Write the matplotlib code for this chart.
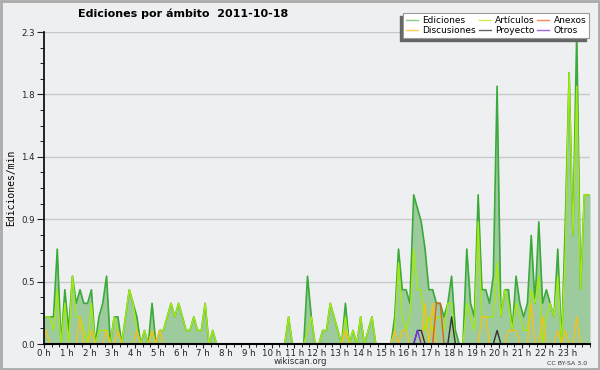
import matplotlib
matplotlib.use("Agg")
import matplotlib.pyplot as plt
import numpy as np
from matplotlib.patches import Rectangle
from matplotlib.ticker import AutoMinorLocator, MultipleLocator

# edits per minute, 10-minute bins (one row = one hour)
ediciones = [
    0.2, 0.2, 0.2, 0.7, 0.0, 0.4,
    0.1, 0.5, 0.3, 0.4, 0.3, 0.3,
    0.4, 0.0, 0.2, 0.3, 0.5, 0.0,
    0.2, 0.2, 0.0, 0.2, 0.4, 0.3,
    0.2, 0.0, 0.1, 0.0, 0.3, 0.0,
    0.1, 0.1, 0.2, 0.3, 0.2, 0.3,
    0.2, 0.1, 0.1, 0.2, 0.1, 0.1,
    0.3, 0.0, 0.1, 0.0, 0.0, 0.0,
    0.0, 0.0, 0.0, 0.0, 0.0, 0.0,
    0.0, 0.0, 0.0, 0.0, 0.0, 0.0,
    0.0, 0.0, 0.0, 0.0, 0.2, 0.0,
    0.0, 0.0, 0.0, 0.5, 0.2, 0.0,
    0.0, 0.1, 0.1, 0.3, 0.2, 0.1,
    0.0, 0.3, 0.0, 0.1, 0.0, 0.2,
    0.0, 0.1, 0.2, 0.0, 0.0, 0.0,
    0.0, 0.0, 0.2, 0.7, 0.4, 0.4,
    0.3, 1.1, 1.0, 0.9, 0.7, 0.4,
    0.4, 0.3, 0.3, 0.2, 0.3, 0.5,
    0.1, 0.0, 0.0, 0.7, 0.3, 0.2,
    1.1, 0.4, 0.4, 0.3, 0.5, 1.9,
    0.2, 0.4, 0.4, 0.1, 0.5, 0.3,
    0.2, 0.3, 0.8, 0.3, 0.9, 0.3,
    0.4, 0.3, 0.2, 0.7, 0.0, 0.9,
    2.0, 0.8, 2.3, 0.4, 1.1, 1.1,
]
articulos = [
    0.2, 0.2, 0.1, 0.4, 0.0, 0.3,
    0.0, 0.5, 0.2, 0.2, 0.1, 0.0,
    0.3, 0.0, 0.1, 0.1, 0.1, 0.0,
    0.2, 0.1, 0.0, 0.2, 0.4, 0.3,
    0.1, 0.0, 0.1, 0.0, 0.1, 0.0,
    0.1, 0.1, 0.2, 0.3, 0.2, 0.3,
    0.2, 0.1, 0.1, 0.2, 0.1, 0.1,
    0.3, 0.0, 0.1, 0.0, 0.0, 0.0,
    0.0, 0.0, 0.0, 0.0, 0.0, 0.0,
    0.0, 0.0, 0.0, 0.0, 0.0, 0.0,
    0.0, 0.0, 0.0, 0.0, 0.2, 0.0,
    0.0, 0.0, 0.0, 0.1, 0.2, 0.0,
    0.0, 0.1, 0.1, 0.3, 0.2, 0.1,
    0.0, 0.2, 0.0, 0.1, 0.0, 0.2,
    0.0, 0.1, 0.2, 0.0, 0.0, 0.0,
    0.0, 0.0, 0.1, 0.6, 0.2, 0.1,
    0.2, 0.7, 0.4, 0.4, 0.1, 0.2,
    0.1, 0.2, 0.2, 0.1, 0.3, 0.3,
    0.0, 0.0, 0.0, 0.3, 0.2, 0.1,
    0.9, 0.2, 0.2, 0.2, 0.2, 0.6,
    0.2, 0.4, 0.3, 0.1, 0.3, 0.2,
    0.1, 0.1, 0.4, 0.3, 0.5, 0.0,
    0.2, 0.3, 0.2, 0.5, 0.0, 0.7,
    2.0, 0.8, 1.9, 0.4, 1.1, 1.1,
]
discusiones = [0.0] * 144
for i, v in [(0, 0.1), (9, 0.2), (12, 0.1), (16, 0.1), (19, 0.1), (24, 0.1),
             (28, 0.1), (30, 0.1), (79, 0.1), (92, 0.1), (94, 0.1), (95, 0.1),
             (100, 0.3), (102, 0.3), (115, 0.2), (116, 0.2), (122, 0.1),
             (123, 0.1), (124, 0.1), (128, 0.3), (131, 0.2), (135, 0.1),
             (137, 0.1), (140, 0.2)]:
    discusiones[i] = v
anexos = [0.0] * 144
anexos[103] = 0.3
anexos[104] = 0.3
proyecto = [0.0] * 144
for i, v in [(98, 0.1), (99, 0.1), (107, 0.2), (119, 0.1)]:
    proyecto[i] = v
otros = [0.0] * 144
otros[98] = 0.1

hour_labels = ["%d h" % h for h in range(24)]
title = "Ediciones por ámbito  2011-10-18"
ymax = 2.3

bg = "#eeeff1"
fig = plt.figure(figsize=(6, 3.7), dpi=100, facecolor=bg)
ax = fig.add_axes([44 / 600, 26 / 370, 546 / 600, 312 / 370])
ax.set_facecolor(bg)

# bin centres in hours, padded out to the axis edges
x = (np.arange(144) + 0.5) / 6.0
xx = np.concatenate([[0], x, [24]])

def pad(v):
    return np.concatenate([[v[0]], v, [v[-1]]])

ax.fill_between(xx, pad(ediciones), color="#9dcb9d", lw=0)
series = [
    (articulos, "#a4ea10"),
    (discusiones, "#f2c21b"),
    (anexos, "#e2601c"),
    (proyecto, "#333333"),
    (otros, "#7a2ee8"),
]
ax.plot(xx, pad(ediciones), color="#3aaa3a", lw=1.2, zorder=3)
for vals, col in series:
    ax.plot(xx, pad(vals), color=col, lw=1.0, zorder=4)

ax.set_xlim(0, 24)
ax.set_ylim(0, ymax)
yt = np.linspace(0, ymax, 6)
ax.set_yticks(yt)
ax.set_yticklabels(["%.1f" % v for v in yt])
ax.yaxis.set_minor_locator(AutoMinorLocator(4))
ax.set_xticks(range(24))
ax.set_xticklabels(hour_labels)
ax.xaxis.set_minor_locator(MultipleLocator(1 / 3))
ax.grid(axis="y", color="#c8c8c8", lw=1)
ax.set_axisbelow(True)
for s in ["top", "right"]:
    ax.spines[s].set_visible(False)
for s in ["left", "bottom"]:
    ax.spines[s].set_zorder(6)
ax.spines["left"].set_linewidth(1.2)
ax.spines["bottom"].set_linewidth(1.5)
ax.tick_params(axis="both", labelsize=6.2, colors="#222222")
ax.tick_params(axis="y", which="major", length=5, pad=1.5)
ax.tick_params(axis="y", which="minor", length=3)
ax.tick_params(axis="x", which="major", length=3, pad=0.5)
ax.tick_params(axis="x", which="minor", length=2.5)
ax.set_ylabel("Ediciones/min", fontsize=7, family="DejaVu Sans Mono", labelpad=4)

fig.text(0.305, 0.962, title, ha="center", va="center", fontsize=8, fontweight="bold")
fig.text(0.5, 0.022, "wikiscan.org", ha="center", va="center", fontsize=6.2, color="#333333")
fig.text(0.978, 0.018, "CC BY-SA 3.0", ha="right", va="center", fontsize=4.5, color="#333333")

labels = ["Ediciones", "Discusiones", "Artículos", "Proyecto", "Anexos", "Otros"]
colors = ["#88cc88", "#ffcc55", "#ccee55", "#666666", "#ff8855", "#9966ee"]
handles = [plt.Line2D([], [], color=c, lw=1) for c in colors]
leg = fig.legend(handles, labels, ncol=3, loc="upper right", bbox_to_anchor=(0.99, 0.978),
                 fontsize=6.5, frameon=True, fancybox=False, handlelength=1.3,
                 handletextpad=0.5, columnspacing=0.3, labelspacing=0.1,
                 borderpad=0.35, edgecolor="#999999", framealpha=1)
leg.get_frame().set_linewidth(0.8)
leg.set_zorder(10)

fig.canvas.draw()
bb = leg.get_window_extent().transformed(fig.transFigure.inverted())
fig.patches.append(Rectangle((bb.x0 - 3 / 600, bb.y0 - 3 / 370), bb.width, bb.height,
                             transform=fig.transFigure, color="#666666", zorder=9))
fig.patches.append(Rectangle((0.002, 0.003), 0.996, 0.994, transform=fig.transFigure,
                             fill=False, edgecolor="#aaaaaa", lw=2))

fig.savefig("out.png", dpi=100, facecolor=bg)
